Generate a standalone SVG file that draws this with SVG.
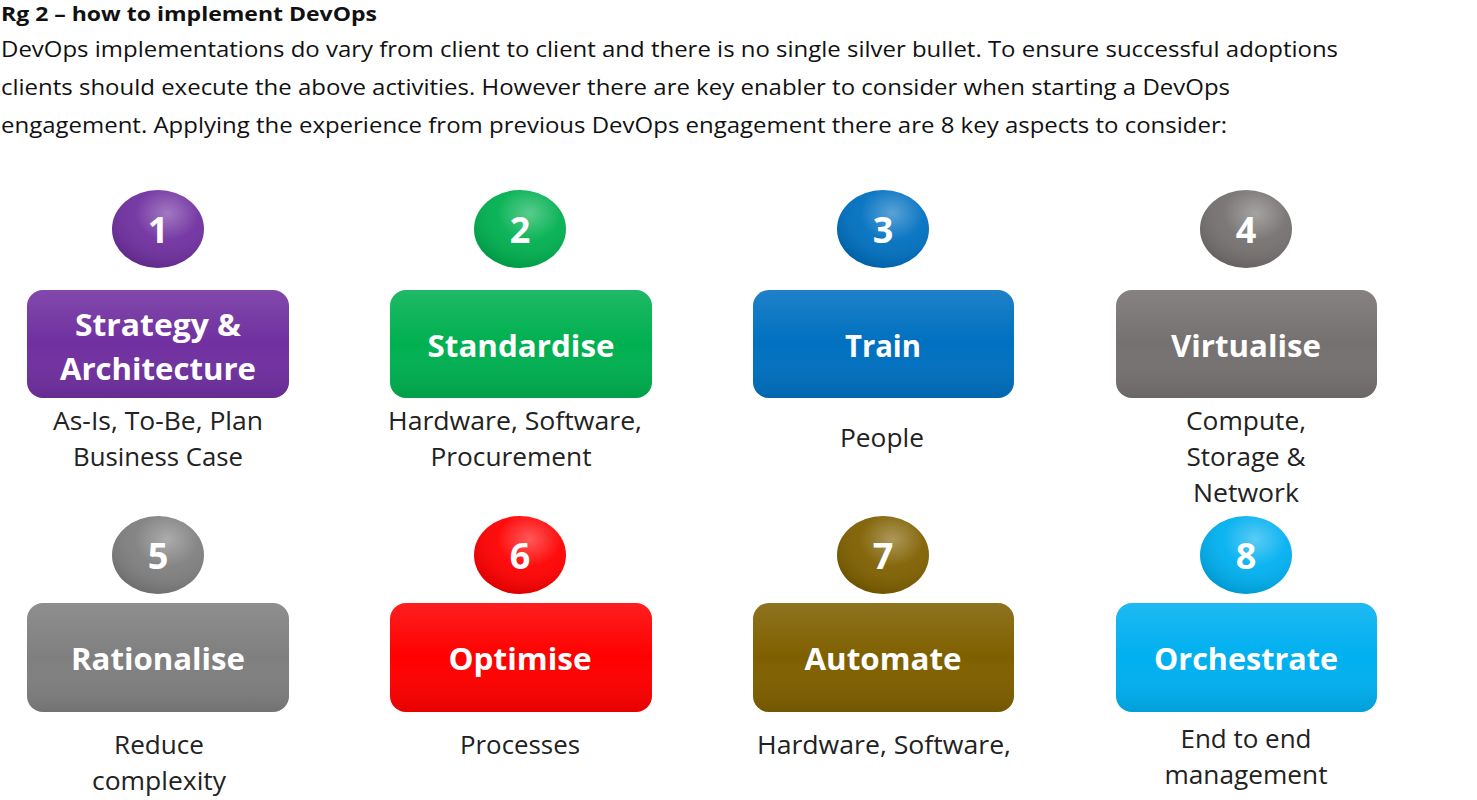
<svg xmlns="http://www.w3.org/2000/svg" width="1477" height="800" viewBox="0 0 1477 800">
<defs>
<radialGradient id="gloss" cx="0.6" cy="0.3" r="0.7">
<stop offset="0" stop-color="#fff" stop-opacity="0.35"/>
<stop offset="0.5" stop-color="#fff" stop-opacity="0.05"/>
<stop offset="1" stop-color="#000" stop-opacity="0.12"/>
</radialGradient>
<linearGradient id="boxg" x1="0" y1="0" x2="0" y2="1">
<stop offset="0" stop-color="#fff" stop-opacity="0.12"/>
<stop offset="0.5" stop-color="#fff" stop-opacity="0"/>
<stop offset="1" stop-color="#000" stop-opacity="0.1"/>
</linearGradient>
</defs>
<style>
.hd{font-family:"Open Sans","DejaVu Sans",sans-serif;font-weight:bold;font-size:20px;fill:#111}
.bd{font-family:"Open Sans","DejaVu Sans",sans-serif;font-size:21px;fill:#111}
.num{font-family:"Open Sans","Liberation Sans",sans-serif;font-weight:bold;font-size:36px;fill:#fff;text-anchor:middle}
.lbl{font-family:"Open Sans","Liberation Sans",sans-serif;font-weight:bold;font-size:31px;fill:#fff;text-anchor:middle}
.sub{font-family:"Open Sans","Liberation Sans",sans-serif;font-size:25px;fill:#222;text-anchor:middle}
.ov{fill:url(#gloss)}
.bo{fill:url(#boxg)}
</style>
<rect width="1477" height="800" fill="#fff"/>
<g id="intro">
<text class="hd" x="1" y="21" textLength="376" lengthAdjust="spacingAndGlyphs">Rg 2 – how to implement DevOps</text>
<text class="bd" x="1" y="57" textLength="1337" lengthAdjust="spacingAndGlyphs">DevOps implementations do vary from client to client and there is no single silver bullet. To ensure successful adoptions</text>
<text class="bd" x="1" y="95" textLength="1229" lengthAdjust="spacingAndGlyphs">clients should execute the above activities. However there are key enabler to consider when starting a DevOps</text>
<text class="bd" x="1" y="133" textLength="1226" lengthAdjust="spacingAndGlyphs">engagement. Applying the experience from previous DevOps engagement there are 8 key aspects to consider:</text>
</g>
<g id="connectors"/>
<g id="node1">
<ellipse cx="158" cy="229" rx="46" ry="39" fill="#7030A0"/><ellipse cx="158" cy="229" rx="46" ry="39" class="ov"/>
<text class="num" x="158" y="243">1</text>
<rect x="27" y="290" width="262" height="108" rx="16" fill="#7030A0"/><rect x="27" y="290" width="262" height="108" rx="16" class="bo"/>
<text class="lbl" x="158" y="336" textLength="166" lengthAdjust="spacingAndGlyphs">Strategy &amp;</text>
<text class="lbl" x="158" y="380" textLength="196" lengthAdjust="spacingAndGlyphs">Architecture</text>
<text class="sub" x="158" y="430" textLength="210" lengthAdjust="spacingAndGlyphs">As-Is, To-Be, Plan</text>
<text class="sub" x="158" y="466" textLength="170" lengthAdjust="spacingAndGlyphs">Business Case</text>
</g>
<g id="node2">
<ellipse cx="520" cy="229" rx="46" ry="39" fill="#00B050"/><ellipse cx="520" cy="229" rx="46" ry="39" class="ov"/>
<text class="num" x="520" y="243">2</text>
<rect x="390" y="290" width="262" height="108" rx="16" fill="#00B050"/><rect x="390" y="290" width="262" height="108" rx="16" class="bo"/>
<text class="lbl" x="521" y="357" textLength="187" lengthAdjust="spacingAndGlyphs">Standardise</text>
<text class="sub" x="515" y="430" textLength="254" lengthAdjust="spacingAndGlyphs">Hardware, Software,</text>
<text class="sub" x="511" y="466" textLength="161" lengthAdjust="spacingAndGlyphs">Procurement</text>
</g>
<g id="node3">
<ellipse cx="883" cy="229" rx="46" ry="39" fill="#0070C0"/><ellipse cx="883" cy="229" rx="46" ry="39" class="ov"/>
<text class="num" x="883" y="243">3</text>
<rect x="753" y="290" width="261" height="108" rx="16" fill="#0070C0"/><rect x="753" y="290" width="261" height="108" rx="16" class="bo"/>
<text class="lbl" x="883" y="357" textLength="76" lengthAdjust="spacingAndGlyphs">Train</text>
<text class="sub" x="882" y="447" textLength="84" lengthAdjust="spacingAndGlyphs">People</text>
</g>
<g id="node4">
<ellipse cx="1246" cy="229" rx="46" ry="39" fill="#767171"/><ellipse cx="1246" cy="229" rx="46" ry="39" class="ov"/>
<text class="num" x="1246" y="243">4</text>
<rect x="1116" y="290" width="261" height="108" rx="16" fill="#767171"/><rect x="1116" y="290" width="261" height="108" rx="16" class="bo"/>
<text class="lbl" x="1246" y="357" textLength="150" lengthAdjust="spacingAndGlyphs">Virtualise</text>
<text class="sub" x="1246" y="430" textLength="120" lengthAdjust="spacingAndGlyphs">Compute,</text>
<text class="sub" x="1246" y="466" textLength="119" lengthAdjust="spacingAndGlyphs">Storage &amp;</text>
<text class="sub" x="1246" y="502" textLength="106" lengthAdjust="spacingAndGlyphs">Network</text>
</g>
<g id="node5">
<ellipse cx="158" cy="555" rx="46" ry="39" fill="#7F7F7F"/><ellipse cx="158" cy="555" rx="46" ry="39" class="ov"/>
<text class="num" x="158" y="569">5</text>
<rect x="27" y="603" width="262" height="109" rx="16" fill="#7F7F7F"/><rect x="27" y="603" width="262" height="109" rx="16" class="bo"/>
<text class="lbl" x="158" y="670" textLength="174" lengthAdjust="spacingAndGlyphs">Rationalise</text>
<text class="sub" x="159" y="754" textLength="90" lengthAdjust="spacingAndGlyphs">Reduce</text>
<text class="sub" x="159" y="790" textLength="134" lengthAdjust="spacingAndGlyphs">complexity</text>
</g>
<g id="node6">
<ellipse cx="520" cy="555" rx="46" ry="39" fill="#FF0000"/><ellipse cx="520" cy="555" rx="46" ry="39" class="ov"/>
<text class="num" x="520" y="569">6</text>
<rect x="390" y="603" width="262" height="109" rx="16" fill="#FF0000"/><rect x="390" y="603" width="262" height="109" rx="16" class="bo"/>
<text class="lbl" x="520" y="670" textLength="143" lengthAdjust="spacingAndGlyphs">Optimise</text>
<text class="sub" x="520" y="754" textLength="120" lengthAdjust="spacingAndGlyphs">Processes</text>
</g>
<g id="node7">
<ellipse cx="883" cy="555" rx="46" ry="39" fill="#7F6000"/><ellipse cx="883" cy="555" rx="46" ry="39" class="ov"/>
<text class="num" x="883" y="569">7</text>
<rect x="753" y="603" width="261" height="109" rx="16" fill="#7F6000"/><rect x="753" y="603" width="261" height="109" rx="16" class="bo"/>
<text class="lbl" x="883" y="670" textLength="157" lengthAdjust="spacingAndGlyphs">Automate</text>
<text class="sub" x="884" y="754" textLength="254" lengthAdjust="spacingAndGlyphs">Hardware, Software,</text>
</g>
<g id="node8">
<ellipse cx="1246" cy="555" rx="46" ry="39" fill="#00B0F0"/><ellipse cx="1246" cy="555" rx="46" ry="39" class="ov"/>
<text class="num" x="1246" y="569">8</text>
<rect x="1116" y="603" width="261" height="109" rx="16" fill="#00B0F0"/><rect x="1116" y="603" width="261" height="109" rx="16" class="bo"/>
<text class="lbl" x="1246" y="670" textLength="184" lengthAdjust="spacingAndGlyphs">Orchestrate</text>
<text class="sub" x="1246" y="748" textLength="131" lengthAdjust="spacingAndGlyphs">End to end</text>
<text class="sub" x="1246" y="784" textLength="163" lengthAdjust="spacingAndGlyphs">management</text>
</g>
</svg>
